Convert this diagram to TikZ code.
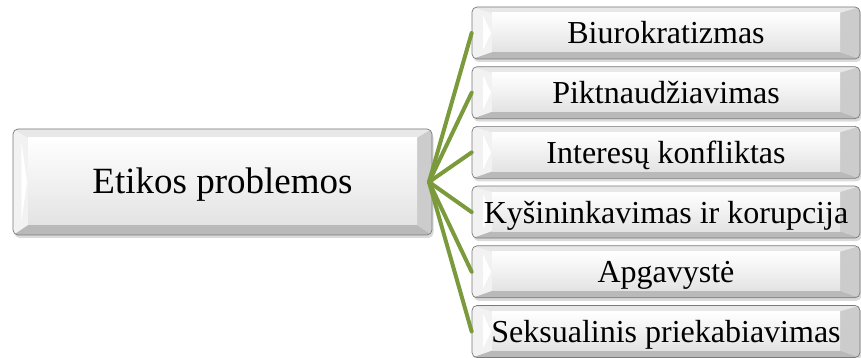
\documentclass[tikz,border=0pt]{standalone}
\usepackage{fontspec}
\setmainfont{Liberation Serif}
\usetikzlibrary{shadows}
\definecolor{linegreen}{HTML}{7A9A3C}
\definecolor{bevedge}{HTML}{7A7A7A}
\newcommand\mybevel[3]{%
  \coordinate (pNW) at (path picture bounding box.north west);
  \coordinate (pSE) at (path picture bounding box.south east);
  \coordinate (pNE) at (path picture bounding box.north east);
  \coordinate (pSW) at (path picture bounding box.south west);
  % top facet
  \fill[sharp corners, gray!18] (pNW) -- (pNE) -- ([xshift=-#1,yshift=-#2]pNE) -- ([xshift=#1,yshift=-#2]pNW) -- cycle;
  % bottom facet
  \fill[sharp corners, gray!55] (pSW) -- (pSE) -- ([xshift=-#1,yshift=#3]pSE) -- ([xshift=#1,yshift=#3]pSW) -- cycle;
  % left facet
  \fill[sharp corners, gray!10] (pNW) -- ([xshift=#1,yshift=-#2]pNW) -- ([xshift=#1,yshift=#3]pSW) -- (pSW) -- cycle;
  \fill[sharp corners, white] ([xshift=0.55*#1,yshift=-#2-2pt]pNW) -- ([xshift=#1-1pt]path picture bounding box.west) -- ([xshift=0.55*#1,yshift=#3+2pt]pSW) -- cycle;
  % right facet
  \fill[sharp corners, gray!40] (pNE) -- ([xshift=-#1,yshift=-#2]pNE) -- ([xshift=-#1,yshift=#3]pSE) -- (pSE) -- cycle;
  % face
  \shade[sharp corners, top color=white, bottom color=gray!22] ([xshift=#1,yshift=-#2]pNW) rectangle ([xshift=-#1,yshift=#3]pSE);
}
\tikzset{
  bevbase/.style={rectangle, rounded corners=5pt, draw=bevedge, line width=0.7pt,
    fill=gray!20, inner sep=0pt, text height=22pt, text depth=0pt,
    drop shadow={shadow xshift=1.5pt, shadow yshift=-3pt, opacity=0.35, fill=gray!80}},
  bigbox/.style={bevbase, minimum width=419pt, minimum height=106pt,
    font=\fontsize{37}{40}\selectfont, text height=23pt,
    path picture={\mybevel{15pt}{9pt}{10pt}}},
  smallbox/.style={bevbase, minimum width=388pt, minimum height=52pt,
    font=\fontsize{32}{36}\selectfont,
    path picture={\mybevel{20pt}{6pt}{7pt}}},
  conn/.style={draw=linegreen, line width=4pt, line cap=round}
}
\begin{document}
\begin{tikzpicture}[x=1pt,y=1pt]
\useasboundingbox (0,0) rectangle (861,358);
\node[bigbox] (root) at (222.5,176) {Etikos problemos};
\coordinate (hub) at (429,176);
\node[smallbox] (b1) at (666,325) {Biurokratizmas};
\node[smallbox] (b2) at (666,265.3) {Piktnaudžiavimas};
\node[smallbox] (b3) at (666,205.6) {Interesų konfliktas};
\node[smallbox] (b4) at (666,145.9) {Kyšininkavimas ir korupcija};
\node[smallbox] (b5) at (666,86.2) {Apgavystė};
\node[smallbox] (b6) at (666,26.5) {Seksualinis priekabiavimas};
\foreach \b in {b1,b2,b3,b4,b5,b6}{\draw[conn] (hub) -- (\b.west);}
\end{tikzpicture}
\end{document}
